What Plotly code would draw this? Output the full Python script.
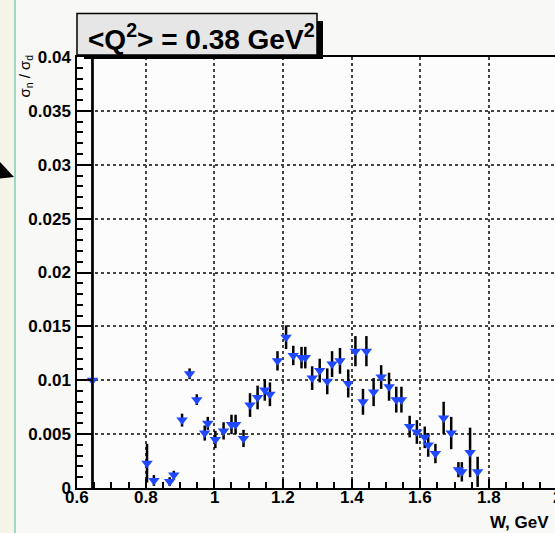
import plotly.graph_objects as go

# Ratio sigma_n / sigma_d versus W at <Q^2> = 0.38 GeV^2
w_gev = [0.645, 0.804, 0.824, 0.870, 0.882, 0.906, 0.928, 0.949, 0.972, 0.981,
         1.003, 1.027, 1.050, 1.062, 1.085, 1.104, 1.126, 1.147, 1.162, 1.184,
         1.209, 1.230, 1.254, 1.265, 1.285, 1.307, 1.329, 1.343, 1.366, 1.390,
         1.411, 1.433, 1.443, 1.464, 1.486, 1.509, 1.530, 1.545, 1.569, 1.590,
         1.613, 1.623, 1.644, 1.668, 1.690, 1.711, 1.721, 1.745, 1.767]
ratio = [0.0100, 0.0023, 0.0007, 0.0006, 0.0012, 0.0063, 0.0106, 0.0082, 0.0051, 0.0060,
         0.0045, 0.0053, 0.0059, 0.0059, 0.0046, 0.0077, 0.0084, 0.0091, 0.0087, 0.0118,
         0.0140, 0.0123, 0.0121, 0.0121, 0.0102, 0.0109, 0.0099, 0.0115, 0.0118, 0.0097,
         0.0127, 0.0080, 0.0127, 0.0089, 0.0103, 0.0094, 0.0082, 0.0082, 0.0057, 0.0052,
         0.0047, 0.0040, 0.0032, 0.0065, 0.0051, 0.0017, 0.0015, 0.0033, 0.0015]
# upper / lower uncertainties
ratio_err_up = [0.0299, 0.0018, 0.0005, 0.0004, 0.0004, 0.0006, 0.0005, 0.0005, 0.0007, 0.0006,
                0.0008, 0.0008, 0.0009, 0.0009, 0.0008, 0.0011, 0.0011, 0.0010, 0.0011, 0.0009,
                0.0011, 0.0009, 0.0010, 0.0010, 0.0011, 0.0011, 0.0012, 0.0012, 0.0012, 0.0013,
                0.0014, 0.0012, 0.0014, 0.0013, 0.0011, 0.0013, 0.0012, 0.0012, 0.0010, 0.0011,
                0.0010, 0.0011, 0.0009, 0.0015, 0.0015, 0.0007, 0.0009, 0.0023, 0.0014]
ratio_err_down = [0.0100, 0.0018, 0.0005, 0.0004, 0.0004, 0.0006, 0.0005, 0.0005, 0.0007, 0.0006,
                  0.0008, 0.0008, 0.0009, 0.0009, 0.0008, 0.0011, 0.0011, 0.0010, 0.0011, 0.0009,
                  0.0011, 0.0009, 0.0010, 0.0010, 0.0011, 0.0011, 0.0012, 0.0012, 0.0012, 0.0013,
                  0.0014, 0.0012, 0.0014, 0.0013, 0.0011, 0.0013, 0.0012, 0.0012, 0.0010, 0.0011,
                  0.0010, 0.0011, 0.0009, 0.0015, 0.0015, 0.0007, 0.0009, 0.0023, 0.0014]

x_tickvals = [0.6, 0.8, 1.0, 1.2, 1.4, 1.6, 1.8, 2.0]
x_ticktext = ["0.6", "0.8", "1", "1.2", "1.4", "1.6", "1.8", "2"]
y_tickvals = [0, 0.005, 0.01, 0.015, 0.02, 0.025, 0.03, 0.035, 0.04]
y_ticktext = ["0", "0.005", "0.01", "0.015", "0.02", "0.025", "0.03", "0.035", "0.04"]

title_text = "&lt;Q<sup>2</sup>&gt; = 0.38 GeV<sup>2</sup>"
x_title = "W, GeV"
y_title = "σ<sub>n</sub> / σ<sub>d</sub>"

FIG_W, FIG_H = 555, 533
M_L, M_R, M_T, M_B = 77, 0, 57, 45
PLOT_W = FIG_W - M_L - M_R
PLOT_H = FIG_H - M_T - M_B

X0 = 0.6
PX_PER_UNIT = 343.3
X1 = X0 + PLOT_W / PX_PER_UNIT
Y_RANGE = [0, 0.04]


def px_x(px):
    return (px - M_L) / PLOT_W


def px_y(py):
    return (FIG_H - M_B - py) / PLOT_H


def data_x(v):
    return (v - X0) / (X1 - X0)


FONT = "Liberation Sans, Arial, sans-serif"

fig = go.Figure()
fig.add_trace(go.Scatter(
    x=w_gev, y=ratio, mode="markers",
    marker=dict(symbol="triangle-down", size=10, color="#1f48ff", line=dict(width=0)),
    error_y=dict(type="data", symmetric=False, array=ratio_err_up,
                 arrayminus=ratio_err_down, color="black", thickness=2.5, width=0),
    showlegend=False,
))

axis_common = dict(
    showline=True, linecolor="black", linewidth=1.5,
    ticks="inside", tickcolor="black", tickwidth=1.5,
    showgrid=True, gridcolor="#444444", gridwidth=1.5, griddash="dot",
    zeroline=False, automargin=False,
    tickfont=dict(family=FONT, size=17, color="black", weight="bold"),
)

fig.update_xaxes(
    **axis_common,
    range=[X0, X1], tickmode="array", tickvals=x_tickvals, ticktext=x_ticktext,
    showticklabels=False, ticklen=9, mirror=True,
    minor=dict(dtick=0.05, tick0=0.6, ticks="inside", ticklen=6, tickcolor="black",
               tickwidth=1.5, showgrid=False),
)
fig.update_yaxes(
    **axis_common,
    range=Y_RANGE, tickmode="array", tickvals=y_tickvals, ticktext=y_ticktext,
    ticklen=16, ticklabelstandoff=1,
    minor=dict(dtick=0.001, tick0=0, ticks="inside", ticklen=6, tickcolor="black",
               tickwidth=1.5, showgrid=False),
)

shapes = [
    # left border strip and divider line
    dict(type="rect", xref="paper", yref="paper", layer="below",
         x0=px_x(-5), x1=px_x(15), y0=px_y(540), y1=px_y(-5),
         fillcolor="#f4f4e8", line=dict(width=0)),
    dict(type="line", xref="paper", yref="paper", layer="above",
         x0=px_x(15), x1=px_x(15), y0=px_y(540), y1=px_y(-5),
         line=dict(color="#9fd6c6", width=2)),
    # arrowhead entering from the left
    dict(type="path", xref="paper", yref="paper", layer="above",
         path=f"M {px_x(-1)} {px_y(161)} L {px_x(14)} {px_y(177)} L {px_x(-1)} {px_y(178.5)} Z",
         fillcolor="black", line=dict(width=0)),
    # uncertainty band of the lowest-W point, which runs past the frame
    dict(type="line", xref="x", yref="y", layer="above",
         x0=w_gev[0], x1=w_gev[0],
         y0=ratio[0] - ratio_err_down[0], y1=ratio[0] + ratio_err_up[0],
         line=dict(color="black", width=2)),
    # title box with drop shadow
    dict(type="rect", xref="paper", yref="paper", layer="above",
         x0=px_x(84), x1=px_x(323), y0=px_y(59), y1=px_y(21),
         fillcolor="black", line=dict(width=0)),
    dict(type="rect", xref="paper", yref="paper", layer="above",
         x0=px_x(77), x1=px_x(317), y0=px_y(55), y1=px_y(13.5),
         fillcolor="#e6e6e6", line=dict(color="black", width=1.5)),
]

annotations = [
    dict(text=f"<b>{title_text}</b>", xref="paper", yref="paper",
         x=px_x(201.5), y=px_y(37), xanchor="center", yanchor="middle",
         showarrow=False, font=dict(family=FONT, size=28, color="black")),
    dict(text=f"<b>{x_title}</b>", xref="paper", yref="paper",
         x=px_x(551), y=px_y(522), xanchor="right", yanchor="middle",
         showarrow=False, font=dict(family=FONT, size=17, color="black")),
    dict(text=y_title, xref="paper", yref="paper", textangle=-90,
         x=px_x(25), y=px_y(53), xanchor="center", yanchor="top",
         showarrow=False, font=dict(family=FONT, size=15, color="black")),
]

# x tick labels placed just under the axis line
for v, t in zip(x_tickvals, x_ticktext):
    annotations.append(dict(
        text=f"<b>{t}</b>", xref="paper", yref="paper",
        x=data_x(v), y=px_y(497.5), xanchor="center", yanchor="middle",
        showarrow=False, font=dict(family=FONT, size=17, color="black"),
    ))

fig.update_layout(
    width=FIG_W, height=FIG_H,
    margin=dict(l=M_L, r=M_R, t=M_T, b=M_B, pad=0),
    paper_bgcolor="#f8f8f6", plot_bgcolor="#fcfcfc",
    template="none", showlegend=False,
    shapes=shapes, annotations=annotations,
)

fig.write_html("out.html")
